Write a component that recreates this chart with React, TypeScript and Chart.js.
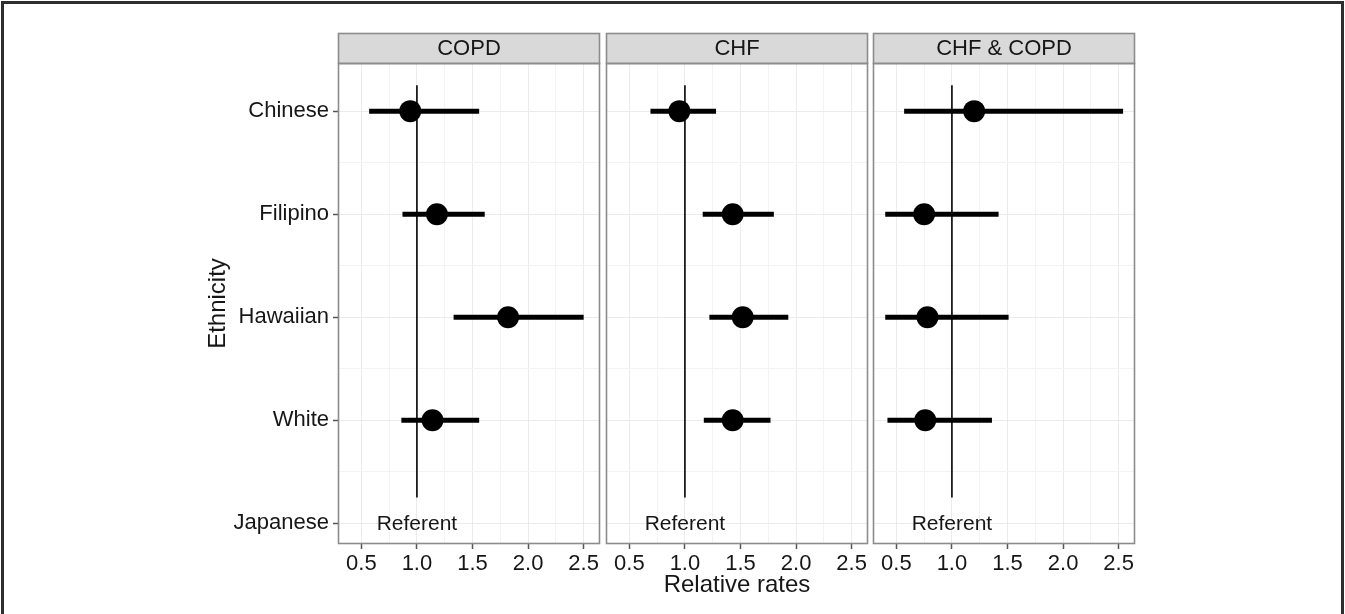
import React, { useEffect, useRef } from 'react';
import Chart from 'chart.js/auto';

// ---------- data ----------
const ETHNICITIES = ['Chinese', 'Filipino', 'Hawaiian', 'White', 'Japanese'];
const REFERENT_GROUP = 'Japanese';
const REFERENT_LABEL = 'Referent';
const MODELLED = ['Chinese', 'Filipino', 'Hawaiian', 'White'];
const PANEL_TITLES = ['COPD', 'CHF', 'CHF & COPD'];

const COPD_RR = [0.94, 1.18, 1.82, 1.14];
const COPD_LO = [0.57, 0.87, 1.33, 0.86];
const COPD_HI = [1.56, 1.61, 2.5, 1.56];

const CHF_RR = [0.95, 1.43, 1.52, 1.43];
const CHF_LO = [0.69, 1.16, 1.22, 1.17];
const CHF_HI = [1.28, 1.8, 1.93, 1.77];

const BOTH_RR = [1.2, 0.75, 0.78, 0.76];
const BOTH_LO = [0.57, 0.4, 0.4, 0.42];
const BOTH_HI = [2.54, 1.42, 1.51, 1.36];

const X_TICKS = [0.5, 1.0, 1.5, 2.0, 2.5];
const X_MIN = 0.29;
const X_MAX = 2.647;
const REF_VALUE = 1.0;
const X_TITLE = 'Relative rates';
const Y_TITLE = 'Ethnicity';

// ---------- styling / layout ----------
const FONT = "'Liberation Sans', Arial, Helvetica, sans-serif";
const TEXT = '#161616';
const BORDER = '#8c8c8c';
const STRIP_FILL = '#d9d9d9';
const GRID_MAJOR = '#ebebeb';
const GRID_MINOR = '#f3f3f3';
const H = 614;
const TOP = 63;
const STRIP_H = 30;
const X_AXIS_H = 70;
const AREA_LEFTS = [338, 606, 873];
const AREA_W = 262;

const yOf = (name: string) => ETHNICITIES.length - 1 - ETHNICITIES.indexOf(name);
const Y_MIN = -0.2;
const Y_MAX = ETHNICITIES.length - 1 + 0.467;
const REF_LINE_Y = [0.25, ETHNICITIES.length - 1 + 0.25];

const isMajorX = (v: number) => Math.abs(v * 2 - Math.round(v * 2)) < 1e-6;
const isMajorY = (v: number) => Math.abs(v - Math.round(v)) < 1e-6;

function xGridTicks() {
  const out: number[] = [];
  X_TICKS.forEach((v, i) => {
    out.push(v);
    if (i < X_TICKS.length - 1) out.push((v + X_TICKS[i + 1]) / 2);
  });
  return out;
}
function yGridTicks() {
  const out: number[] = [];
  for (let i = 0; i < ETHNICITIES.length; i++) {
    out.push(i);
    if (i < ETHNICITIES.length - 1) out.push(i + 0.5);
  }
  return out;
}

const PANEL_DATA = [
  { rr: COPD_RR, lo: COPD_LO, hi: COPD_HI },
  { rr: CHF_RR, lo: CHF_LO, hi: CHF_HI },
  { rr: BOTH_RR, lo: BOTH_LO, hi: BOTH_HI },
];

function Panel({ idx }: { idx: number }) {
  const ref = useRef<HTMLCanvasElement>(null);
  const first = idx === 0;
  const padLeft = first ? 200 : 4;
  const yWidth = first ? AREA_LEFTS[0] - padLeft : 0;
  const canvasLeft = first ? 0 : AREA_LEFTS[idx] - padLeft;
  const canvasW = AREA_LEFTS[idx] + AREA_W - canvasLeft + 4;

  useEffect(() => {
    const canvas = ref.current!;
    const { rr, lo, hi } = PANEL_DATA[idx];
    const title = PANEL_TITLES[idx];

    const datasets: any[] = [];
    datasets.push({
      data: [
        { x: REF_VALUE, y: REF_LINE_Y[0] },
        { x: REF_VALUE, y: REF_LINE_Y[1] },
      ],
      showLine: true,
      borderColor: '#000',
      borderWidth: 1.6,
      pointRadius: 0,
    });
    MODELLED.forEach((name, i) => {
      datasets.push({
        data: [
          { x: lo[i], y: yOf(name) },
          { x: hi[i], y: yOf(name) },
        ],
        showLine: true,
        borderColor: '#000',
        borderWidth: 5,
        borderCapStyle: 'butt',
        pointRadius: 0,
      });
    });
    datasets.push({
      data: MODELLED.map((name, i) => ({ x: rr[i], y: yOf(name) })),
      showLine: false,
      pointRadius: 11,
      pointBackgroundColor: '#000',
      pointBorderWidth: 0,
    });

    const decor = {
      id: 'decor',
      afterDraw(chart: any) {
        const { ctx, chartArea: a, scales } = chart;
        ctx.save();
        ctx.fillStyle = STRIP_FILL;
        ctx.fillRect(a.left, a.top - STRIP_H, a.right - a.left, STRIP_H);
        ctx.strokeStyle = BORDER;
        ctx.lineWidth = 1.6;
        ctx.strokeRect(a.left + 0.5, a.top - STRIP_H + 0.5, a.right - a.left - 1, STRIP_H);
        ctx.strokeRect(a.left + 0.5, a.top + 0.5, a.right - a.left - 1, a.bottom - a.top - 1);
        ctx.fillStyle = TEXT;
        ctx.font = `22px ${FONT}`;
        ctx.textAlign = 'center';
        ctx.textBaseline = 'middle';
        ctx.fillText(title, (a.left + a.right) / 2, a.top - STRIP_H / 2 + 1);
        ctx.font = `21px ${FONT}`;
        ctx.fillText(
          REFERENT_LABEL,
          scales.x.getPixelForValue(REF_VALUE),
          scales.y.getPixelForValue(yOf(REFERENT_GROUP)) + 1
        );
        ctx.restore();
      },
    };

    const chart = new Chart(canvas, {
      type: 'scatter',
      data: { datasets },
      options: {
        animation: false,
        responsive: false,
        events: [],
        layout: { autoPadding: false, padding: { left: padLeft, right: 4, top: TOP, bottom: 0 } },
        plugins: { legend: { display: false }, tooltip: { enabled: false } },
        scales: {
          x: {
            type: 'linear',
            min: X_MIN,
            max: X_MAX,
            afterBuildTicks: (s: any) => {
              s.ticks = xGridTicks().map((v) => ({ value: v }));
            },
            afterFit: (s: any) => {
              s.height = X_AXIS_H;
              s.paddingLeft = 0;
              s.paddingRight = 0;
              s.paddingTop = 0;
              s.paddingBottom = 0;
            },
            border: { display: false },
            grid: {
              color: (c: any) => (isMajorX(c.tick.value) ? GRID_MAJOR : GRID_MINOR),
              lineWidth: 1,
              drawTicks: true,
              tickLength: 5,
              tickWidth: 1.5,
              tickColor: (c: any) => (isMajorX(c.tick.value) ? '#555' : 'rgba(0,0,0,0)'),
            },
            ticks: {
              autoSkip: false,
              maxRotation: 0,
              minRotation: 0,
              padding: 2,
              color: TEXT,
              font: { family: FONT, size: 22 },
              callback: (v: any) =>
                X_TICKS.some((t) => Math.abs(t - Number(v)) < 1e-6) ? Number(v).toFixed(1) : '',
            },
            title: {
              display: idx === 1,
              text: X_TITLE,
              color: TEXT,
              font: { family: FONT, size: 24 },
              padding: { top: 0, bottom: 14.6 },
            },
          },
          y: {
            type: 'linear',
            min: Y_MIN,
            max: Y_MAX,
            afterBuildTicks: (s: any) => {
              s.ticks = yGridTicks().map((v) => ({ value: v }));
            },
            afterFit: (s: any) => {
              s.width = yWidth;
              s.paddingLeft = 0;
              s.paddingRight = 0;
              s.paddingTop = 0;
              s.paddingBottom = 0;
            },
            border: { display: false },
            grid: {
              color: (c: any) => (isMajorY(c.tick.value) ? GRID_MAJOR : GRID_MINOR),
              lineWidth: 1,
              drawTicks: first,
              tickLength: 5,
              tickWidth: 1.5,
              tickColor: (c: any) => (isMajorY(c.tick.value) ? '#555' : 'rgba(0,0,0,0)'),
            },
            ticks: {
              display: first,
              autoSkip: false,
              padding: 4,
              color: TEXT,
              font: { family: FONT, size: 22 },
              callback: (v: any) => {
                const n = Number(v);
                if (!isMajorY(n)) return '';
                return ETHNICITIES[ETHNICITIES.length - 1 - Math.round(n)] ?? '';
              },
            },
            title: {
              display: first,
              text: Y_TITLE,
              color: TEXT,
              font: { family: FONT, size: 24 },
              padding: { top: 3.6, bottom: 0 },
            },
          },
        },
      },
      plugins: [decor],
    } as any);
    return () => chart.destroy();
  }, []);

  return (
    <canvas
      ref={ref}
      width={canvasW}
      height={H}
      style={{ position: 'absolute', left: canvasLeft, top: 0, width: canvasW, height: H }}
    />
  );
}

export default function App() {
  return (
    <div
      style={{
        position: 'fixed',
        left: 0,
        top: 0,
        width: 1345,
        height: 614,
        overflow: 'hidden',
        background: '#fff',
      }}
    >
      {PANEL_TITLES.map((_, i) => (
        <Panel key={i} idx={i} />
      ))}
      <div
        style={{
          position: 'absolute',
          left: 1,
          top: 1,
          width: 1343,
          height: 620,
          boxSizing: 'border-box',
          border: '3px solid #2e2e2e',
          borderBottom: 'none',
          pointerEvents: 'none',
        }}
      />
    </div>
  );
}
